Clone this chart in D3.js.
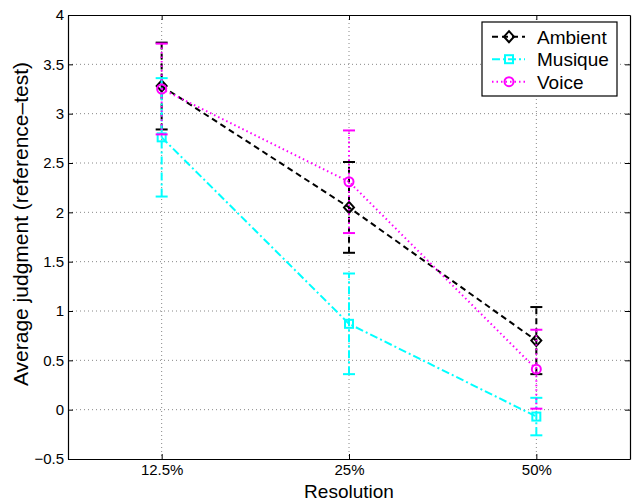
<!DOCTYPE html>
<html>
<head>
<meta charset="utf-8">
<script src="https://cdn.jsdelivr.net/npm/d3@7"></script>
<style>
  body { margin: 0; background: #fff; }
  svg { display: block; font-family: "Liberation Sans", Arial, sans-serif; }
</style>
</head>
<body>
<div id="chart"></div>
<script>
// Data
const resolutions = ["12.5%", "25%", "50%"];
const yTicks = [-0.5, 0, 0.5, 1, 1.5, 2, 2.5, 3, 3.5, 4];

const ambientMean = [3.28, 2.05, 0.70];
const ambientErr = [0.44, 0.46, 0.34];
const musiqueMean = [2.76, 0.87, -0.07];
const musiqueErr = [0.60, 0.51, 0.19];
const voiceMean = [3.25, 2.31, 0.41];
const voiceErr = [0.46, 0.52, 0.40];

const series = [
    { name: "Ambient", mean: ambientMean, err: ambientErr, color: "#000000", dash: "6,4", marker: "diamond" },
    { name: "Musique", mean: musiqueMean, err: musiqueErr, color: "#00ffff", dash: "8,3,2,3", marker: "square" },
    { name: "Voice", mean: voiceMean, err: voiceErr, color: "#ff00ff", dash: "1.5,3", marker: "circle" }
];

const W = 634, H = 502;
const margin = { top: 15, right: 4, bottom: 43, left: 68 };
const width = W - margin.left - margin.right,
    height = H - margin.top - margin.bottom;

const svg = d3.select("#chart").append("svg")
    .attr("width", W)
    .attr("height", H);

const g = svg.append("g")
    .attr("transform", `translate(${margin.left},${margin.top})`);

const x = d3.scaleLinear().domain([0.5, 3.5]).range([0, width]);
const y = d3.scaleLinear().domain([-0.5, 4]).range([height, 0]);
const xPos = [1, 2, 3];

// Grid
g.append("g").selectAll("line")
    .data(yTicks.filter(d => d > -0.5 && d < 4))
    .enter().append("line")
    .attr("x1", 0).attr("x2", width)
    .attr("y1", d => y(d)).attr("y2", d => y(d))
    .attr("stroke", "#888").attr("stroke-width", 1)
    .attr("stroke-dasharray", "1,3");

g.append("g").selectAll("line")
    .data(xPos)
    .enter().append("line")
    .attr("x1", d => x(d)).attr("x2", d => x(d))
    .attr("y1", 0).attr("y2", height)
    .attr("stroke", "#888").attr("stroke-width", 1)
    .attr("stroke-dasharray", "1,3");

// Axes (MATLAB style, ticks inward)
g.append("g")
    .attr("transform", `translate(0,${height})`)
    .call(d3.axisBottom(x).tickValues(xPos).tickFormat((d, i) => resolutions[i]).tickSizeInner(-5).tickSizeOuter(0).tickPadding(5));

g.append("g")
    .call(d3.axisLeft(y).tickValues(yTicks).tickFormat(d => d < 0 ? "\u2212" + Math.abs(d) : d).tickSizeInner(-5).tickSizeOuter(0).tickPadding(4));

g.append("g")
    .call(d3.axisTop(x).tickValues(xPos).tickFormat("").tickSizeInner(-5).tickSizeOuter(0));
g.append("g")
    .attr("transform", `translate(${width},0)`)
    .call(d3.axisRight(y).tickValues(yTicks).tickFormat("").tickSizeInner(-5).tickSizeOuter(0));

g.selectAll(".domain").attr("stroke", "#000").attr("stroke-width", 1.2);
g.selectAll(".tick line").attr("stroke", "#000");
g.selectAll(".tick text").style("font-size", "15px").attr("fill", "#000");

// Axis labels
svg.append("text")
    .attr("x", margin.left + width / 2)
    .attr("y", 498)
    .attr("text-anchor", "middle")
    .style("font-size", "19px")
    .text("Resolution");

svg.append("text")
    .attr("transform", `translate(28, 224) rotate(-90)`)
    .attr("text-anchor", "middle")
    .style("font-size", "21px")
    .text("Average judgment (reference\u2013test)");

// Markers
function drawMarker(sel, type, color, cx, cy) {
    if (type === "diamond") {
        sel.append("path")
            .attr("d", `M${cx},${cy - 5.5}L${cx + 5},${cy}L${cx},${cy + 5.5}L${cx - 5},${cy}Z`)
            .attr("fill", "none").attr("stroke", color).attr("stroke-width", 2);
    } else if (type === "square") {
        sel.append("rect")
            .attr("x", cx - 4).attr("y", cy - 4).attr("width", 8).attr("height", 8)
            .attr("fill", "none").attr("stroke", color).attr("stroke-width", 2);
    } else {
        sel.append("circle")
            .attr("cx", cx).attr("cy", cy).attr("r", 4.5)
            .attr("fill", "none").attr("stroke", color).attr("stroke-width", 2);
    }
}

const line = d3.line().x((d, i) => x(xPos[i])).y(d => y(d));

series.forEach(s => {
    const sg = g.append("g");
    // error bars
    s.mean.forEach((m, i) => {
        const cx = x(xPos[i]);
        sg.append("line")
            .attr("x1", cx).attr("x2", cx)
            .attr("y1", y(m - s.err[i])).attr("y2", y(m + s.err[i]))
            .attr("stroke", s.color).attr("stroke-width", 2)
            .attr("stroke-dasharray", s.dash);
        [m - s.err[i], m + s.err[i]].forEach(v => {
            sg.append("line")
                .attr("x1", cx - 6).attr("x2", cx + 6)
                .attr("y1", y(v)).attr("y2", y(v))
                .attr("stroke", s.color).attr("stroke-width", 2);
        });
    });
    sg.append("path")
        .datum(s.mean)
        .attr("d", line)
        .attr("fill", "none")
        .attr("stroke", s.color).attr("stroke-width", 2)
        .attr("stroke-dasharray", s.dash);
    s.mean.forEach((m, i) => drawMarker(sg, s.marker, s.color, x(xPos[i]), y(m)));
});

// Legend
const lg = svg.append("g").attr("transform", "translate(482,22)");
lg.append("rect")
    .attr("width", 135).attr("height", 74)
    .attr("fill", "#fff").attr("stroke", "#000").attr("stroke-width", 1.2);

series.forEach((s, i) => {
    const ly = 14.7 + i * 22.5;
    lg.append("line")
        .attr("x1", 10).attr("x2", 43)
        .attr("y1", ly).attr("y2", ly)
        .attr("stroke", s.color).attr("stroke-width", 2)
        .attr("stroke-dasharray", s.dash);
    drawMarker(lg, s.marker, s.color, 27, ly);
    lg.append("text")
        .attr("x", 55).attr("y", ly + 7)
        .style("font-size", "19px")
        .text(s.name);
});
</script>
</body>
</html>
